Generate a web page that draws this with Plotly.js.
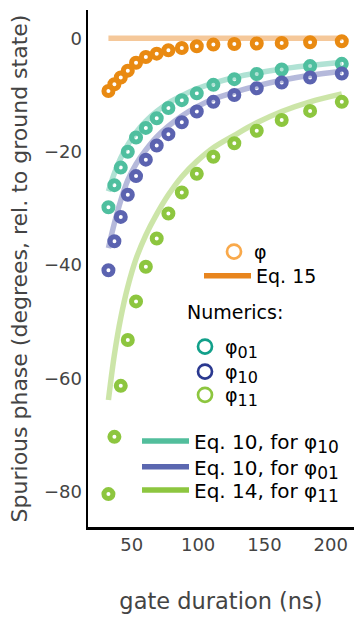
<!DOCTYPE html>
<html>
<head>
<meta charset="utf-8">
<script src="https://cdn.plot.ly/plotly-3.0.1.min.js"></script>
<style>
  html, body { margin: 0; padding: 0; background: #fff; }
  #chart { width: 354px; height: 620px; }
</style>
</head>
<body>
<div id="chart"></div>
<script>
// Gate durations (ns) at which the phases were computed
const gateDuration = [32.4, 36.9, 41.7, 47.0, 53.2, 60.6, 68.8, 77.6, 87.7, 99.0, 111.5, 127.3, 144.2, 163.0, 184.4, 208.3];

// Numerical spurious phases (degrees, relative to ground state)
const phi   = [-9.3, -8.1, -6.9, -5.7, -4.3, -3.3, -2.7, -2.1, -1.7, -1.4, -1.1, -1.0, -0.9, -0.8, -0.7, -0.5];
const phi01 = [-29.8, -25.9, -22.8, -20.0, -17.5, -15.8, -14.1, -12.3, -10.9, -9.7, -8.2, -7.2, -6.3, -5.5, -4.9, -4.5];
const phi10 = [-40.9, -35.8, -31.5, -27.6, -24.3, -21.4, -18.9, -16.9, -14.8, -12.9, -11.2, -10.0, -8.8, -7.8, -6.9, -6.2];
const phi11 = [-80.4, -70.3, -61.3, -53.2, -46.4, -40.3, -35.3, -30.9, -27.2, -23.9, -20.9, -18.5, -16.3, -14.4, -12.8, -11.2];

// Analytic predictions
const eq15      = [0.0, 0.0, 0.0, 0.0, 0.0, 0.0, 0.0, 0.0, 0.0, 0.0, 0.0, 0.0, 0.0, 0.0, 0.0, 0.0];
const eq10Phi10 = [-27.0, -23.8, -21.1, -18.8, -16.6, -14.6, -12.9, -11.4, -10.1, -8.9, -7.9, -6.9, -6.1, -5.4, -4.8, -4.2];
const eq10Phi01 = [-37.0, -32.6, -28.6, -25.0, -22.2, -19.7, -17.4, -15.5, -13.7, -12.1, -10.7, -9.5, -8.4, -7.4, -6.5, -5.8];
const eq14Phi11 = [-63.8, -55.8, -49.3, -43.8, -38.9, -34.7, -31.0, -27.6, -24.4, -21.7, -19.3, -17.1, -14.9, -12.9, -11.2, -9.8];

// Tick labels
const xTicks = [50, 100, 150, 200];
const yTicks = [-80, -60, -40, -20, 0];

const FONT = 'DejaVu Sans, Verdana, sans-serif';
const KEY_SIZE = 19;
const EQ_KEY_SIZE = 20;

// Subscript kept close to the size of the main text
const sub = (s, size) => '<sub><span style="font-size:' + size + 'px">' + s + '</span></sub>';

function curve(y, color) {
  return {
    x: gateDuration, y: y, mode: 'lines', type: 'scatter',
    line: { color: color, width: 5.5, shape: 'spline' },
    opacity: 0.45, showlegend: false, hoverinfo: 'skip'
  };
}
function dots(y, color) {
  return {
    x: gateDuration, y: y, mode: 'markers', type: 'scatter',
    marker: { symbol: 'circle-open', size: 9, color: color, line: { width: 5, color: color } },
    showlegend: false
  };
}
function keyMarker(name, color, legend) {
  return {
    x: [null], y: [null], mode: 'markers', type: 'scatter', name: name, legend: legend,
    marker: { symbol: 'circle-open', size: 14, color: color, line: { width: 2.7, color: color } }
  };
}
function keyLine(name, color, legend) {
  return {
    x: [null], y: [null], mode: 'lines', type: 'scatter', name: name, legend: legend,
    line: { color: color, width: 5.5 }
  };
}

const traces = [
  curve(eq15, '#e8851e'),
  curve(eq10Phi10, '#4fbf9f'),
  curve(eq10Phi01, '#5b63b0'),
  curve(eq14Phi11, '#8dc63f'),
  dots(phi, '#e98a12'),
  dots(phi01, '#4fbf9f'),
  dots(phi10, '#5b63b0'),
  dots(phi11, '#8dc63f'),
  keyMarker('φ', '#f9a94b', 'legend'),
  keyLine('Eq. 15', '#e8851e', 'legend2'),
  keyMarker('φ' + sub('01', 16), '#12a08a', 'legend3'),
  keyMarker('φ' + sub('10', 16), '#2b3990', 'legend4'),
  keyMarker('φ' + sub('11', 16), '#8dc63f', 'legend5'),
  keyLine('Eq. 10, for φ' + sub('10', 17), '#52be9c', 'legend6'),
  keyLine('Eq. 10, for φ' + sub('01', 17), '#5b67b0', 'legend7'),
  keyLine('Eq. 14, for φ' + sub('11', 17), '#8dc63f', 'legend8')
];

// Plot area in pixels, used to place the key entries
const PLOT = { left: 88, right: 354, top: 10, bottom: 527 };
const px2x = px => (px - PLOT.left) / (PLOT.right - PLOT.left);
const px2y = py => (PLOT.bottom - py) / (PLOT.bottom - PLOT.top);

function keyBox(leftPx, centerPx, itemwidth, size) {
  return {
    bgcolor: 'rgba(0,0,0,0)', borderwidth: 0,
    font: { family: FONT, size: size || KEY_SIZE, color: '#000' },
    xanchor: 'left', yanchor: 'middle',
    x: px2x(leftPx), y: px2y(centerPx), itemwidth: itemwidth
  };
}

const layout = {
  width: 354, height: 620,
  margin: { l: PLOT.left, r: 354 - PLOT.right, t: PLOT.top, b: 620 - PLOT.bottom },
  paper_bgcolor: '#fff', plot_bgcolor: '#fff',
  font: { family: FONT, color: '#444' },
  xaxis: {
    range: [17, 217.5], tickvals: xTicks, ticks: '',
    showline: true, linecolor: '#000', linewidth: 2.5, showgrid: false, zeroline: false,
    tickfont: { family: FONT, size: 18, color: '#444' },
    title: { text: 'gate duration (ns)', font: { family: FONT, size: 22.5, color: '#444' }, standoff: 39 }
  },
  yaxis: {
    range: [-86.2, 5], tickvals: yTicks, ticks: '',
    showline: true, linecolor: '#000', linewidth: 2.5, showgrid: false, zeroline: false,
    tickfont: { family: FONT, size: 18, color: '#444' },
    title: { text: 'Spurious phase (degrees, rel. to ground state)', font: { family: FONT, size: 22, color: '#444' }, standoff: 10 }
  },
  legend:  keyBox(214, 251.7, 30),
  legend2: keyBox(199, 276, 47),
  legend3: keyBox(185, 346.7, 30),
  legend4: keyBox(185, 371.7, 30),
  legend5: keyBox(185, 395, 30),
  legend6: keyBox(137, 441, 47, EQ_KEY_SIZE),
  legend7: keyBox(137, 466.7, 47, EQ_KEY_SIZE),
  legend8: keyBox(137, 490, 47, EQ_KEY_SIZE),
  annotations: [{
    text: 'Numerics:', xref: 'paper', yref: 'paper',
    x: px2x(185), y: px2y(311.7), xanchor: 'left', yanchor: 'middle', showarrow: false,
    font: { family: FONT, size: KEY_SIZE, color: '#000' }
  }],
  showlegend: true
};

Plotly.newPlot('chart', traces, layout, { displayModeBar: false, staticPlot: true });
</script>
</body>
</html>
